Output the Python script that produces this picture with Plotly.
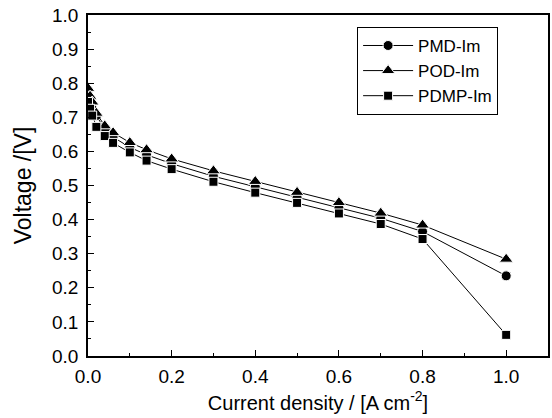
import plotly.graph_objects as go

# current density (A cm-2)
current = [0, 0.005, 0.01, 0.02, 0.04, 0.06, 0.1, 0.14, 0.2, 0.3, 0.4, 0.5, 0.6, 0.7, 0.8, 1.0]

# voltage (V) for each membrane
pmd_im = [0.765, 0.745, 0.725, 0.705, 0.665, 0.642, 0.612, 0.59, 0.564, 0.527, 0.496, 0.465, 0.435, 0.404, 0.365, 0.235]
pod_im = [0.785, 0.762, 0.745, 0.712, 0.675, 0.655, 0.626, 0.605, 0.578, 0.543, 0.512, 0.48, 0.45, 0.419, 0.384, 0.284]
pdmp_im = [0.745, 0.725, 0.705, 0.672, 0.645, 0.625, 0.597, 0.573, 0.548, 0.511, 0.479, 0.449, 0.418, 0.387, 0.343, 0.062]

names = ["PMD-Im", "POD-Im", "PDMP-Im"]
symbols = ["circle", "triangle-up", "square"]
sizes = [10, 12, 9]

FONT = "Liberation Sans, Arial"

fig = go.Figure()
for name, vals, sym, sz in zip(names, [pmd_im, pod_im, pdmp_im], symbols, sizes):
    fig.add_trace(go.Scatter(
        x=current, y=vals, name=name, mode="lines+markers",
        line=dict(color="black", width=1),
        marker=dict(symbol=sym, color="black", size=sz,
                    line=dict(color="white", width=1)),
    ))

axis_common = dict(
    showline=True, linecolor="black", linewidth=1.5, mirror=True,
    ticks="inside", ticklen=6, tickwidth=1.2, tickcolor="black",
    showgrid=False, zeroline=False, automargin=False,
    tickfont=dict(family=FONT, size=19, color="black"),
    tickformat=".1f",
)

fig.update_xaxes(
    range=[0, 1.1], dtick=0.2, tick0=0,
    minor=dict(ticks="inside", ticklen=3, dtick=0.1, tickcolor="black", showgrid=False),
    ticklabelstandoff=2,
    title=dict(text="Current density / [A cm<sup>-2</sup>]", standoff=10,
               font=dict(family=FONT, size=20, color="black")),
    **axis_common,
)
fig.update_yaxes(
    range=[0, 1.0], dtick=0.1, tick0=0,
    minor=dict(ticks="inside", ticklen=3, dtick=0.05, tickcolor="black", showgrid=False),
    ticklabelstandoff=4,
    title=dict(text="Voltage /[V]", standoff=14,
               font=dict(family=FONT, size=23, color="black")),
    **axis_common,
)

fig.update_layout(
    width=552, height=418,
    margin=dict(l=88, r=4, t=15, b=62),
    plot_bgcolor="white", paper_bgcolor="white",
    showlegend=True,
    legend=dict(
        x=0.585, y=0.965, xanchor="left", yanchor="top",
        bordercolor="black", borderwidth=1, bgcolor="white",
        font=dict(family=FONT, size=17, color="black"),
        tracegroupgap=0, itemwidth=50,
        entrywidth=140, entrywidthmode="pixels",
    ),
)

# page body has a default margin; remove it so the figure sits at the corner
fig.write_html("out.html", config={"displayModeBar": False},
               post_script="document.body.style.margin='0';")
